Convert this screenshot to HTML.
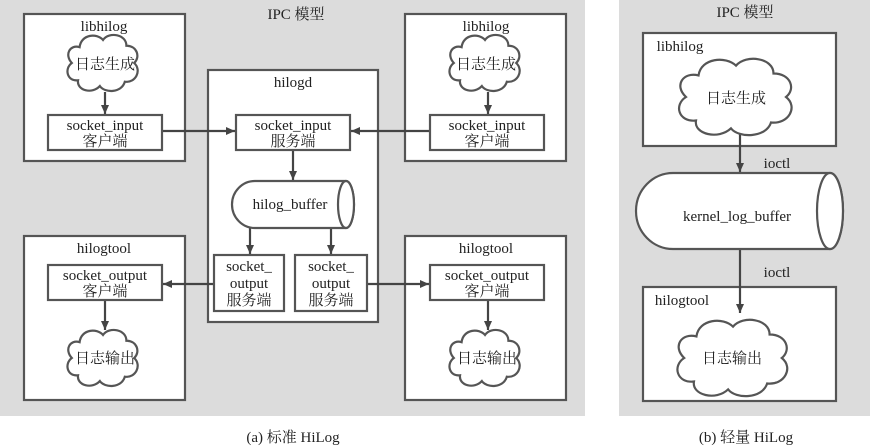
<!DOCTYPE html>
<html><head><meta charset="utf-8"><style>
body{margin:0;background:#fff;}
svg{display:block;font-family:"Liberation Serif","Noto Serif CJK SC",serif;}
</style></head><body>
<svg width="870" height="447" viewBox="0 0 870 447">
<defs>
<marker id="a" markerWidth="10" markerHeight="10" refX="9" refY="5" orient="auto" markerUnits="userSpaceOnUse"><path d="M0,1 L9,5 L0,9 Z" fill="#444"/></marker>
<path id="cl" d="M-30,-22 C-28,-40 -8,-42 0,-32 C8,-44 30,-40 30,-24 C44,-24 48,-8 40,0 C50,10 42,28 28,26 C24,42 2,42 -4,32 C-14,44 -34,38 -32,24 C-46,26 -50,8 -40,0 C-50,-12 -42,-26 -30,-22 Z" fill="#fff" stroke="#555" stroke-width="2.2" vector-effect="non-scaling-stroke"/>
</defs>
<rect x="0" y="0" width="585" height="416" fill="#dcdcdc"/>
<rect x="619" y="0" width="251" height="416" fill="#dcdcdc"/>
<g fill="#fff" stroke="#555" stroke-width="2.2">
<rect x="24" y="14" width="161" height="147"/>
<rect x="405" y="14" width="161" height="147"/>
<rect x="208" y="70" width="170" height="252"/>
<rect x="24" y="236" width="161" height="164"/>
<rect x="405" y="236" width="161" height="164"/>
<rect x="643" y="33" width="193" height="113"/>
<rect x="643" y="287" width="193" height="114"/>
</g>
<g fill="none" stroke="#444" stroke-width="2.2">
<line x1="105" y1="92" x2="105" y2="114" marker-end="url(#a)"/>
<line x1="488" y1="92" x2="488" y2="114" marker-end="url(#a)"/>
<line x1="162" y1="131" x2="235" y2="131" marker-end="url(#a)"/>
<line x1="430" y1="131" x2="351" y2="131" marker-end="url(#a)"/>
<line x1="293" y1="150" x2="293" y2="180" marker-end="url(#a)"/>
<line x1="250" y1="224" x2="250" y2="254" marker-end="url(#a)"/>
<line x1="331" y1="224" x2="331" y2="254" marker-end="url(#a)"/>
<line x1="214" y1="284" x2="163" y2="284" marker-end="url(#a)"/>
<line x1="367" y1="284" x2="429" y2="284" marker-end="url(#a)"/>
<line x1="105" y1="300" x2="105" y2="330" marker-end="url(#a)"/>
<line x1="488" y1="300" x2="488" y2="330" marker-end="url(#a)"/>
<line x1="740" y1="134" x2="740" y2="172" marker-end="url(#a)"/>
<line x1="740" y1="249" x2="740" y2="313" marker-end="url(#a)"/>
</g>
<g fill="#fff" stroke="#555" stroke-width="2.2">
<rect x="48" y="115" width="114" height="35"/>
<rect x="236" y="115" width="114" height="35"/>
<rect x="430" y="115" width="114" height="35"/>
<rect x="48" y="265" width="114" height="35"/>
<rect x="430" y="265" width="114" height="35"/>
<rect x="214" y="255" width="70" height="56"/>
<rect x="295" y="255" width="72" height="56"/>
<path d="M255,181 L346,181 A8,23.5 0 0 1 346,228 L255,228 A23,23.5 0 0 1 255,181 Z"/>
<ellipse cx="346" cy="204.5" rx="8" ry="23.5"/>
<path d="M673,173 L830,173 A13,38 0 0 1 830,249 L673,249 A37,38 0 0 1 673,173 Z"/>
<ellipse cx="830" cy="211" rx="13" ry="38"/>
</g>
<use href="#cl" transform="translate(103,63) scale(0.78,0.72)"/>
<use href="#cl" transform="translate(485,63) scale(0.78,0.72)"/>
<use href="#cl" transform="translate(103,358) scale(0.78,0.72)"/>
<use href="#cl" transform="translate(485,358) scale(0.78,0.72)"/>
<use href="#cl" transform="translate(736,97) scale(1.25,0.98)"/>
<use href="#cl" transform="translate(733,358) scale(1.22,0.98)"/>
<g fill="#222" font-size="15" text-anchor="middle">
<text x="296" y="19">IPC 模型</text>
<text x="104" y="31">libhilog</text>
<text x="486" y="31">libhilog</text>
<text x="293" y="87">hilogd</text>
<text x="104" y="253">hilogtool</text>
<text x="486" y="253">hilogtool</text>
<text x="105" y="69">日志生成</text>
<text x="486" y="69">日志生成</text>
<text x="105" y="363">日志输出</text>
<text x="487" y="363">日志输出</text>
<text x="105" y="130">socket_input</text><text x="105" y="146">客户端</text>
<text x="293" y="130">socket_input</text><text x="293" y="146">服务端</text>
<text x="487" y="130">socket_input</text><text x="487" y="146">客户端</text>
<text x="105" y="280">socket_output</text><text x="105" y="296">客户端</text>
<text x="487" y="280">socket_output</text><text x="487" y="296">客户端</text>
<text x="249" y="271">socket_</text><text x="249" y="288">output</text><text x="249" y="305">服务端</text>
<text x="331" y="271">socket_</text><text x="331" y="288">output</text><text x="331" y="305">服务端</text>
<text x="290" y="209">hilog_buffer</text>
<text x="293" y="442">(a) 标准 HiLog</text>
<text x="745" y="17">IPC 模型</text>
<text x="680" y="51">libhilog</text>
<text x="736" y="103">日志生成</text>
<text x="777" y="168">ioctl</text>
<text x="737" y="221">kernel_log_buffer</text>
<text x="777" y="277">ioctl</text>
<text x="682" y="305">hilogtool</text>
<text x="732" y="363">日志输出</text>
<text x="746" y="442">(b) 轻量 HiLog</text>
</g>
</svg>
</body></html>
